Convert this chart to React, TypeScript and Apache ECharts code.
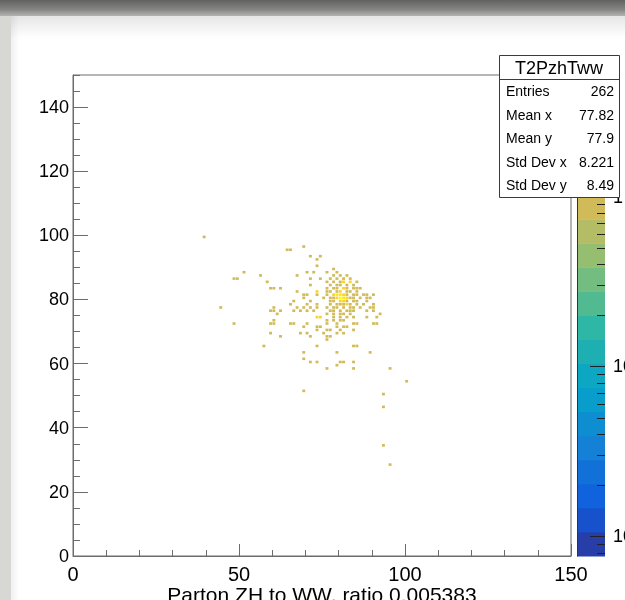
import { useEffect, useRef } from "react";
import * as echarts from "echarts";

// ---------------------------------------------------------------------------
// Histogram content: [x bin low edge, y bin low edge, bin content]
// ---------------------------------------------------------------------------
const outerCells: [number, number, number][] = [
  [39, 99, 1],
  [69, 96, 1],
  [64, 95, 1], [65, 95, 1],
  [71, 93, 1], [74, 93, 1],
  [73, 92, 1],
  [73, 90, 1],
  [51, 88, 1], [70, 88, 1], [72, 88, 1],
  [56, 87, 1], [67, 87, 1],
  [48, 86, 1], [49, 86, 1], [71, 86, 1], [74, 86, 1],
  [58, 85, 1],
  [71, 84, 1],
  [59, 83, 1], [60, 83, 1], [62, 83, 1],
  [67, 82, 1], [73, 82, 2],
  [69, 81, 1], [70, 81, 1], [73, 81, 1],
  [69, 80, 1],
  [66, 79, 1], [71, 79, 1],
  [65, 78, 1], [70, 78, 1], [73, 78, 1],
  [44, 77, 1], [60, 77, 1], [67, 77, 1], [69, 77, 1], [71, 77, 1], [73, 77, 1],
  [59, 76, 1], [60, 76, 1], [62, 76, 1], [66, 76, 1], [68, 76, 1], [70, 76, 1], [72, 76, 1],
  [61, 75, 1],
  [73, 74, 2], [74, 74, 2],
  [60, 73, 1],
  [48, 72, 1], [59, 72, 1], [60, 72, 1], [65, 72, 1], [66, 72, 1], [70, 72, 1],
  [69, 71, 1], [73, 71, 1], [74, 71, 1],
  [73, 70, 1],
  [59, 69, 1], [68, 69, 1], [70, 69, 1],
  [62, 68, 1], [71, 68, 1],
  [76, 67, 1],
  [57, 65, 1], [73, 65, 1], [84, 65, 1], [85, 65, 1],
  [69, 63, 1], [79, 63, 1], [89, 63, 1],
  [69, 61, 1],
  [71, 60, 1], [73, 60, 1], [80, 60, 1], [81, 60, 1], [84, 60, 1],
  [79, 59, 1],
  [76, 58, 1], [84, 58, 1], [95, 58, 1],
  [100, 54, 1],
  [69, 51, 1],
  [93, 50, 1],
  [93, 46, 1],
  [93, 34, 1],
  [95, 28, 1],
];

const coreCells: [number, number, number][] = [
  [78, 89, 1],
  [76, 88, 1], [79, 88, 1],
  [78, 87, 1], [80, 87, 1], [82, 87, 1],
  [77, 86, 1], [79, 86, 1], [81, 86, 1], [83, 86, 1],
  [76, 85, 1], [78, 85, 1], [80, 85, 1], [81, 85, 2], [83, 85, 2], [85, 85, 1],
  [77, 84, 1], [79, 84, 1], [80, 84, 1], [82, 84, 1], [84, 84, 1],
  [76, 83, 1], [78, 83, 1], [79, 83, 1], [81, 83, 2], [82, 83, 1], [84, 83, 1], [85, 83, 1], [86, 83, 1],
  [76, 82, 1], [77, 82, 1], [79, 82, 1], [80, 82, 2], [82, 82, 1], [83, 82, 1], [85, 82, 1],
  [76, 81, 1], [78, 81, 2], [79, 81, 3], [80, 81, 3], [81, 81, 2], [82, 81, 1], [84, 81, 1],
  [85, 81, 1], [87, 81, 1], [88, 81, 1], [90, 81, 1],
  [75, 80, 1], [77, 80, 1], [78, 80, 1], [79, 80, 2], [80, 80, 4], [81, 80, 3], [82, 80, 2],
  [83, 80, 1], [84, 80, 1], [86, 80, 1], [88, 80, 1], [89, 80, 1],
  [77, 79, 1], [78, 79, 1], [80, 79, 2], [81, 79, 2], [82, 79, 1], [84, 79, 1], [85, 79, 1], [88, 79, 1],
  [77, 78, 1], [79, 78, 1], [80, 78, 1], [81, 78, 1], [82, 78, 2], [83, 78, 1], [85, 78, 1], [87, 78, 1], [90, 78, 1],
  [76, 77, 1], [78, 77, 1], [79, 77, 1], [81, 77, 1], [83, 77, 1], [84, 77, 1], [86, 77, 1], [89, 77, 1], [90, 77, 1],
  [77, 76, 1], [78, 76, 1], [80, 76, 1], [82, 76, 1], [83, 76, 1], [84, 76, 1], [88, 76, 1], [90, 76, 1],
  [76, 75, 1], [78, 75, 1], [80, 75, 1], [81, 75, 1], [83, 75, 1], [92, 75, 1],
  [78, 74, 1], [80, 74, 1], [82, 74, 1], [84, 74, 1], [88, 74, 1], [91, 74, 1],
  [76, 73, 1], [78, 73, 1], [80, 73, 1], [81, 73, 1],
  [76, 72, 1], [79, 72, 1], [84, 72, 1], [85, 72, 1], [90, 72, 1], [91, 72, 1],
  [79, 71, 1], [81, 71, 1], [82, 71, 1],
  [76, 70, 1], [77, 70, 1], [80, 70, 1], [84, 70, 1],
  [75, 69, 1], [79, 69, 1], [81, 69, 1],
  [76, 68, 1], [77, 68, 1],
];

// Axis ranges and tick steps
const xRange = [0, 150];
const yRange = [0, 150];
const xMajorStep = 50;
const xMinorStep = 10;
const yMajorStep = 20;
const yMinorStep = 5;

// Colour axis (log10 of bin content)
const zLogRange = [-2.115, 0.715];
const paletteMajorTicks = [-2, -1, 0];
const paletteMinorMultipliers = [2, 3, 4, 5, 6, 7, 8, 9];
const paletteDecades = [-3, -2, -1, 0];
const nContours = 20;

// Text
const histName = "T2PzhTww";
const xTitle = "Parton ZH to WW, ratio 0.005383";
const statNames = ["Entries", "Mean x", "Mean y", "Std Dev x", "Std Dev y"];
const statValues = ["262", "77.82", "77.9", "8.221", "8.49"];

// kBird palette stops
const birdStops = [0, 0.125, 0.25, 0.375, 0.5, 0.625, 0.75, 0.875, 1];
const birdR = [0.2082, 0.0592, 0.078, 0.0232, 0.1802, 0.5301, 0.8186, 0.9956, 0.9764];
const birdG = [0.1664, 0.3599, 0.5041, 0.6419, 0.7178, 0.7492, 0.7328, 0.7862, 0.9832];
const birdB = [0.5293, 0.8684, 0.8385, 0.7914, 0.6425, 0.4662, 0.3499, 0.1968, 0.0539];

const FONT = '"Liberation Sans", Arial, Helvetica, sans-serif';
const AXIS_COLOR = "#6c6c6c";
const MAJOR_TICK_PX = 15;
const MINOR_TICK_PX = 8;

function birdColor(f: number): string {
  let k = 0;
  while (k < birdStops.length - 2 && f > birdStops[k + 1]) k++;
  const t = (f - birdStops[k]) / (birdStops[k + 1] - birdStops[k]);
  const c = (a: number[]) => Math.round(255 * (a[k] + (a[k + 1] - a[k]) * t));
  return `rgb(${c(birdR)},${c(birdG)},${c(birdB)})`;
}

const bandColors = Array.from({ length: nContours }, (_, i) =>
  birdColor(Math.min(1, Math.floor((i + 0.99) * (255 / nContours)) / 254))
);

const bandStep = (zLogRange[1] - zLogRange[0]) / nContours;

function bandOf(content: number): number {
  const i = Math.floor(0.01 + (Math.log10(content) - zLogRange[0]) / bandStep);
  return Math.max(0, Math.min(nContours - 1, i));
}

const paletteMinorTicks = paletteDecades
  .flatMap((d) => paletteMinorMultipliers.map((m) => Math.log10(m) + d))
  .filter((v) => v > zLogRange[0] && v < zLogRange[1]);

export default function App() {
  const ref = useRef<HTMLDivElement>(null);

  useEffect(() => {
    if (!ref.current) return;
    const chart = echarts.init(ref.current, undefined, { renderer: "svg" });

    const cells = [...outerCells, ...coreCells];
    const bands = bandColors.map((_, i) => [
      0,
      zLogRange[0] + i * bandStep,
      zLogRange[0] + (i + 1) * bandStep,
      i,
    ]);
    const paletteTicks = [
      ...paletteMajorTicks.map((v) => [1, v, MAJOR_TICK_PX]),
      ...paletteMinorTicks.map((v) => [1, v, MINOR_TICK_PX]),
    ];

    const statsLeft = 499;
    const statsRight = 619;
    const statsTop = 55;
    const statsHeader = 79;
    const statsBottom = 197;
    const rowY = [91, 114.5, 138, 161.5, 185];

    const graphic: any[] = [
      // desk behind the sheet
      { type: "rect", z: -20, silent: true, shape: { x: 0, y: 0, width: 625, height: 600 }, style: { fill: "#d7d7d3" } },
      {
        type: "rect", z: -19, silent: true,
        shape: { x: 0, y: 0, width: 625, height: 16 },
        style: {
          fill: new echarts.graphic.LinearGradient(0, 0, 0, 1, [
            { offset: 0, color: "#626261" },
            { offset: 0.6, color: "#858584" },
            { offset: 1, color: "#b3b3b0" },
          ]),
        },
      },
      { type: "rect", z: -18, silent: true, shape: { x: 11, y: 16, width: 614, height: 584 }, style: { fill: "#ffffff" } },
      {
        type: "rect", z: -17, silent: true,
        shape: { x: 11, y: 16, width: 614, height: 22 },
        style: {
          fill: new echarts.graphic.LinearGradient(0, 0, 0, 1, [
            { offset: 0, color: "rgba(0,0,0,0.10)" },
            { offset: 1, color: "rgba(0,0,0,0)" },
          ]),
        },
      },
      {
        type: "rect", z: -17, silent: true,
        shape: { x: 11, y: 16, width: 8, height: 584 },
        style: {
          fill: new echarts.graphic.LinearGradient(0, 0, 1, 0, [
            { offset: 0, color: "rgba(0,0,0,0.06)" },
            { offset: 1, color: "rgba(0,0,0,0)" },
          ]),
        },
      },
      // statistics box
      {
        type: "rect", z: 50, silent: true,
        shape: { x: statsLeft + 0.5, y: statsTop + 0.5, width: statsRight - statsLeft, height: statsBottom - statsTop },
        style: { fill: "#ffffff", stroke: "#3a3a3a", lineWidth: 1 },
      },
      {
        type: "line", z: 51, silent: true,
        shape: { x1: statsLeft + 0.5, y1: statsHeader + 0.5, x2: statsRight + 0.5, y2: statsHeader + 0.5 },
        style: { stroke: "#3a3a3a", lineWidth: 1 },
      },
      {
        type: "text", z: 52, silent: true,
        style: {
          text: histName, x: (statsLeft + statsRight) / 2, y: (statsTop + statsHeader) / 2 + 1,
          align: "center", verticalAlign: "middle", fill: "#000", fontSize: 18, fontFamily: FONT,
        },
      },
      ...statNames.map((name, i) => ({
        type: "text", z: 52, silent: true,
        style: {
          text: name, x: statsLeft + 7, y: rowY[i], align: "left", verticalAlign: "middle",
          fill: "#000", fontSize: 14, fontFamily: FONT,
        },
      })),
      ...statValues.map((val, i) => ({
        type: "text", z: 52, silent: true,
        style: {
          text: val, x: statsRight - 5, y: rowY[i], align: "right", verticalAlign: "middle",
          fill: "#000", fontSize: 14, fontFamily: FONT,
        },
      })),
    ];

    const tickStyle = { color: AXIS_COLOR, width: 1 };

    chart.setOption({
      animation: false,
      backgroundColor: "transparent",
      graphic,
      grid: [
        {
          left: 73, top: 75, width: 498, height: 481, show: true, borderColor: AXIS_COLOR, borderWidth: 1,
          backgroundColor: "transparent", containLabel: false, outerBoundsMode: "none",
        },
        { left: 577, top: 75, width: 28, height: 481, show: false, containLabel: false, outerBoundsMode: "none" },
      ],
      xAxis: [
        {
          type: "value", gridIndex: 0, position: "bottom", min: xRange[0], max: xRange[1], interval: xMajorStep,
          axisLine: { show: true, lineStyle: tickStyle },
          axisTick: { show: true, inside: true, length: 12, lineStyle: tickStyle },
          axisLabel: { show: true, fontSize: 20, lineHeight: 15, margin: 10, color: "#000", fontFamily: FONT },
          splitLine: { show: false },
          name: xTitle, nameLocation: "middle", nameGap: 30, nameMoveOverlap: false,
          nameTextStyle: { fontSize: 21, lineHeight: 16, color: "#000", fontFamily: FONT },
        },
        {
          type: "value", gridIndex: 0, position: "bottom", min: xRange[0], max: xRange[1], interval: xMinorStep,
          axisLine: { show: false },
          axisTick: { show: true, inside: true, length: 6, lineStyle: tickStyle },
          axisLabel: { show: false },
          splitLine: { show: false },
        },
        {
          type: "value", gridIndex: 1, min: 0, max: 1, show: false, splitLine: { show: false },
        },
      ],
      yAxis: [
        {
          type: "value", gridIndex: 0, position: "left", min: yRange[0], max: yRange[1], interval: yMajorStep,
          axisLine: { show: true, lineStyle: tickStyle },
          axisTick: { show: true, inside: true, length: 15, lineStyle: tickStyle },
          axisLabel: { show: true, fontSize: 18, margin: 4, color: "#000", fontFamily: FONT, showMaxLabel: false },
          splitLine: { show: false },
        },
        {
          type: "value", gridIndex: 0, position: "left", min: yRange[0], max: yRange[1], interval: yMinorStep,
          axisLine: { show: false },
          axisTick: { show: true, inside: true, length: 7, lineStyle: tickStyle },
          axisLabel: { show: false },
          splitLine: { show: false },
        },
        {
          type: "value", gridIndex: 1, position: "right", min: zLogRange[0], max: zLogRange[1], z: 6,
          axisLine: { show: true, lineStyle: { color: "#333", width: 1 } },
          axisTick: { show: false },
          axisLabel: {
            show: true, inside: false, margin: 8, fontSize: 18, color: "#000", fontFamily: FONT,
            customValues: paletteMajorTicks,
            formatter: (v: number) => (Math.abs(v) < 1e-9 ? "1" : `10{e|${Math.round(v)}}`),
            rich: { e: { fontSize: 12, fontFamily: FONT, color: "#000", padding: [0, 0, 10, 0] } },
          },
          splitLine: { show: false },
        },
      ],
      series: [
        {
          type: "custom",
          name: histName,
          xAxisIndex: 0,
          yAxisIndex: 0,
          clip: true,
          silent: true,
          data: cells,
          renderItem: (_params: any, api: any) => {
            const x = api.value(0);
            const y = api.value(1);
            const c = api.value(2);
            const p0 = api.coord([x, y + 1]);
            const p1 = api.coord([x + 1, y]);
            return {
              type: "rect",
              shape: {
                x: p0[0] + 0.2,
                y: p0[1] + 0.3,
                width: p1[0] - p0[0] - 0.4,
                height: p1[1] - p0[1] - 0.6,
              },
              style: { fill: bandColors[bandOf(c)] },
            };
          },
        },
        {
          type: "custom",
          name: "palette",
          xAxisIndex: 2,
          yAxisIndex: 2,
          silent: true,
          data: bands,
          renderItem: (_params: any, api: any) => {
            const lo = api.value(1);
            const hi = api.value(2);
            const i = api.value(3);
            const p0 = api.coord([0, hi]);
            const p1 = api.coord([1, lo]);
            return {
              type: "rect",
              shape: { x: p0[0], y: p0[1], width: p1[0] - p0[0], height: p1[1] - p0[1] + 0.5 },
              style: { fill: bandColors[i] },
            };
          },
        },
        {
          type: "custom",
          name: "palette ticks",
          xAxisIndex: 2,
          yAxisIndex: 2,
          silent: true,
          z: 4,
          data: paletteTicks,
          renderItem: (_params: any, api: any) => {
            const p = api.coord([api.value(0), api.value(1)]);
            const len = api.value(2);
            const y = Math.round(p[1]) + 0.5;
            return {
              type: "line",
              shape: { x1: p[0] - len, y1: y, x2: p[0], y2: y },
              style: { stroke: "#222", lineWidth: 1 },
            };
          },
        },
      ],
    });

    return () => chart.dispose();
  }, []);

  return (
    <div
      ref={ref}
      style={{ position: "fixed", left: 0, top: 0, width: 625, height: 600 }}
    />
  );
}
